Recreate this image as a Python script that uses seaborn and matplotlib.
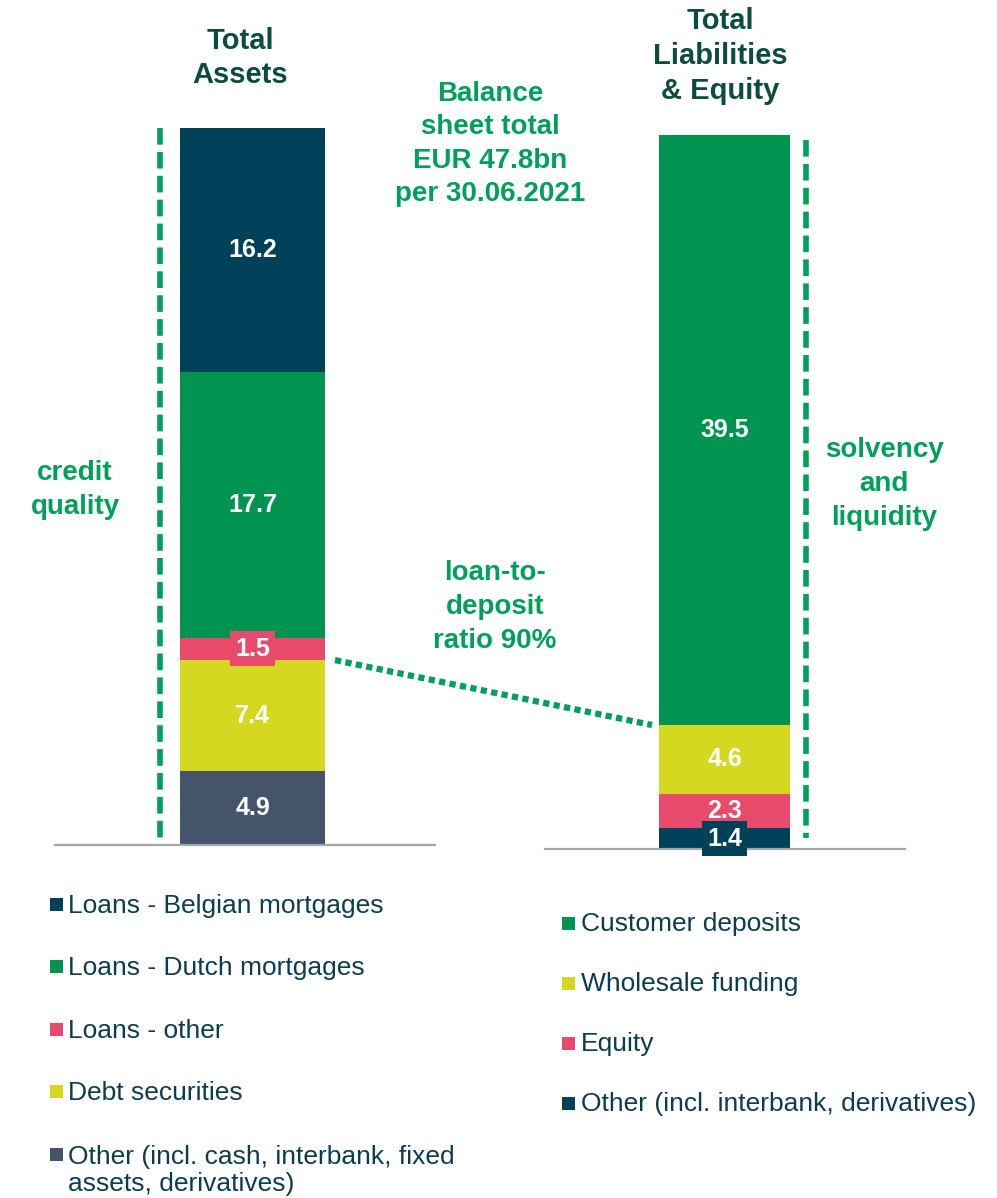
import matplotlib
matplotlib.use('Agg')
import matplotlib.pyplot as plt
from matplotlib.lines import Line2D
from matplotlib.patches import Rectangle
import pandas as pd
import seaborn as sns

# data: segments listed top to bottom
asset_labels = ['Loans - Belgian mortgages', 'Loans - Dutch mortgages', 'Loans - other',
                'Debt securities', 'Other (incl. cash, interbank, fixed\nassets, derivatives)']
asset_values = [16.2, 17.7, 1.5, 7.4, 4.9]
asset_colors = ['#00415a', '#009450', '#e84a6b', '#d4d81e', '#44546a']

liab_labels = ['Customer deposits', 'Wholesale funding', 'Equity',
               'Other (incl. interbank, derivatives)']
liab_values = [39.5, 4.6, 2.3, 1.4]
liab_colors = ['#009450', '#d4d81e', '#e84a6b', '#00415a']

TEXT = '#0a3d50'
TITLE = '#0b4d3c'
GREEN = '#00a05a'
FONT = 'Liberation Sans'

sns.set_theme(style='white')
plt.rcParams['font.family'] = [FONT, 'DejaVu Sans']

W, H = 997, 1198
fig = plt.figure(figsize=(W / 100, H / 100), dpi=100)


def fx(px):
    return px / W


def fy(py):
    return 1 - py / H


def make_axes(x0, x1, base, top, bar_l, bar_r, total):
    ax = fig.add_axes([fx(x0), fy(base), (x1 - x0) / W, (base - top) / H])
    return ax, (x0, x1, bar_l, bar_r, total)


def draw_stack(ax, geom, side, labels, values, colors):
    x0, x1, bar_l, bar_r, total = geom
    tops = [sum(values[i:]) for i in range(len(values))]
    df = pd.DataFrame({'side': side, 'segment': labels, 'top': tops})
    sns.barplot(data=df, x='side', y='top', hue='segment', hue_order=labels,
                palette=colors, dodge=False, width=0.8, saturation=1,
                linewidth=0, legend=False, ax=ax)
    scale = (bar_r - bar_l) / 0.8
    centre = (bar_l + bar_r) / 2
    ax.set_xlim(-(centre - x0) / scale, (x1 - centre) / scale)
    ax.set_ylim(0, total)
    for i, v in enumerate(values):
        kw = {}
        if v < 2:
            kw['bbox'] = dict(boxstyle='square,pad=0.22', fc=colors[i], ec='none')
        ax.text(0, tops[i] - v / 2, f'{v:.1f}', ha='center', va='center',
                color='white', fontsize=18, fontweight='bold', **kw)
    ax.set_xlabel('')
    ax.set_ylabel('')
    ax.set_xticks([])
    ax.set_yticks([])
    for s in ['top', 'left', 'right']:
        ax.spines[s].set_visible(False)
    ax.spines['bottom'].set_color('#a6a6a6')
    ax.spines['bottom'].set_linewidth(1.6)
    return tops


ax1, g1 = make_axes(55, 435, 845, 128, 180, 325, sum(asset_values))
ax2, g2 = make_axes(545, 905, 849, 135, 659, 790, sum(liab_values))
tops1 = draw_stack(ax1, g1, 'Total Assets', asset_labels, asset_values, asset_colors)
tops2 = draw_stack(ax2, g2, 'Total Liabilities & Equity', liab_labels, liab_values, liab_colors)

# dotted link: top of debt securities -> top of wholesale funding
sc1 = (g1[3] - g1[2]) / 0.8
sc2 = (g2[3] - g2[2]) / 0.8
to_fig = fig.transFigure.inverted()
pa = to_fig.transform(ax1.transData.transform((0.4 + 10 / sc1, tops1[3])))
pb = to_fig.transform(ax2.transData.transform((-0.4 - 7 / sc2, tops2[1])))
fig.add_artist(Line2D([pa[0], pb[0]], [pa[1], pb[1]], transform=fig.transFigure,
                      color=GREEN, lw=4.5, linestyle=(0, (1, 0.7)),
                      dash_capstyle='butt'))

# dashed brackets
for x, y0, y1 in [(160, 128, 838), (806, 140, 838)]:
    fig.add_artist(Line2D([fx(x), fx(x)], [fy(y0), fy(y1)], transform=fig.transFigure,
                          color=GREEN, lw=4, linestyle=(0, (3, 1.3))))

# headings and notes
fig.text(fx(240), fy(58), 'Total\nAssets', ha='center', va='center', color=TITLE,
         fontsize=21, fontweight='bold', linespacing=1.3)
fig.text(fx(720), fy(56), 'Total\nLiabilities\n& Equity', ha='center', va='center',
         color=TITLE, fontsize=21, fontweight='bold', linespacing=1.3)
fig.text(fx(490), fy(144), 'Balance\nsheet total\nEUR 47.8bn\nper 30.06.2021', ha='center',
         va='center', color=GREEN, fontsize=20, fontweight='bold', linespacing=1.38)
fig.text(fx(75), fy(490), 'credit\nquality', ha='center', va='center', color=GREEN,
         fontsize=20, fontweight='bold', linespacing=1.38)
fig.text(fx(884), fy(484), 'solvency\nand\nliquidity', ha='center', va='center', color=GREEN,
         fontsize=20, fontweight='bold', linespacing=1.38)
fig.text(fx(495), fy(607), 'loan-to-\ndeposit\nratio 90%', ha='center', va='center',
         color=GREEN, fontsize=20, fontweight='bold', linespacing=1.38)


# legends
def draw_legend(labels, colors, sq_x, txt_x, y_first, step):
    for i, (lab, col) in enumerate(zip(labels, colors)):
        yc = y_first + i * step
        fig.add_artist(Rectangle((fx(sq_x), fy(yc + 6.5)), 13 / W, 13 / H,
                                 transform=fig.transFigure, fc=col, ec='none'))
        extra = lab.count('\n') * 28
        fig.text(fx(txt_x), fy(yc + 8.5 + extra), lab, ha='left', va='baseline',
                 color=TEXT, fontsize=19, linespacing=1.11)


draw_legend(asset_labels, asset_colors, 50, 68, 904, 62.5)
draw_legend(liab_labels, liab_colors, 562, 581, 923, 60)

fig.savefig('out.png', dpi=100, facecolor='white')
